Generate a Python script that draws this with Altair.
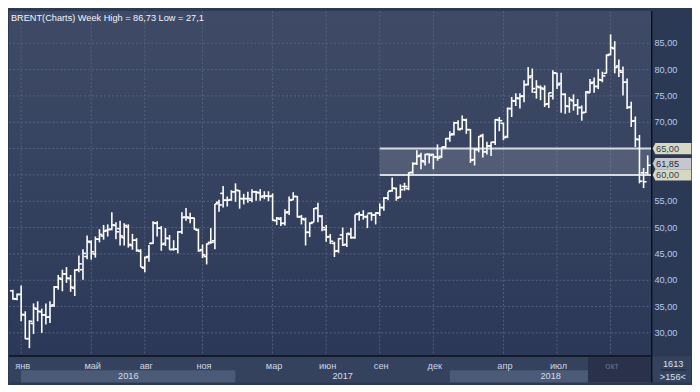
import altair as alt
import pandas as pd

# ---------------- data (weekly BRENT bars, index 1 = mid-Dec 2015) ----------------
first_bar = 1
opens = [38.0, 36.4,
         37.3, 33.4, 28.9, 31.8, 34.5, 34.0, 33.4, 33.0, 35.3, 38.7, 40.2, 41.2, 40.3, 38.5, 42.0, 42.0, 44.5,
         47.2, 45.0, 47.8, 48.4, 49.5, 49.7, 50.4, 49.8, 48.1, 50.1, 46.6, 47.6, 45.5, 42.3, 44.5, 47.0, 50.8,
         49.9, 47.0, 47.9, 45.9, 45.9, 49.2, 52.0, 51.8, 51.8, 49.5, 45.8, 44.5, 47.2, 47.5, 54.8, 56.5, 55.2, 55.3,
         56.8, 57.0, 55.5, 55.5, 55.2, 56.8, 56.6, 56.0, 56.0, 56.0, 51.3, 51.6, 50.8, 53.0, 55.3, 55.9, 52.1,
         51.5, 49.1, 51.0, 53.7, 52.1, 49.6, 48.3, 47.0, 45.6, 48.6, 46.8, 48.7, 48.1, 52.6, 52.4, 52.0, 52.7, 52.4,
         52.7, 53.8, 55.6, 57.0, 57.4, 55.8, 57.8, 57.4, 60.5, 62.2, 63.7, 62.5, 63.9, 63.9, 63.4, 63.5, 65.3,
         66.9, 67.8, 69.9, 68.8, 70.4, 68.6, 62.9, 64.8, 67.5, 64.4, 65.5, 66.2, 70.4, 69.8, 67.3, 72.6, 74.0,
         74.5, 75.0, 77.2, 78.8, 75.7, 76.6, 76.3, 73.5, 75.0, 79.3, 77.4, 75.3, 73.0, 74.1, 73.3, 72.8, 71.9,
         75.6, 77.6, 76.8, 78.0, 79.3, 82.9, 84.0, 80.7, 79.5, 77.6, 72.9, 70.3, 66.7, 60.4, 60.4]
highs = [38.2, 37.5,
         39.0, 34.1, 32.4, 35.6, 36.0, 34.6, 35.6, 36.0, 38.9, 41.0, 42.0, 42.5, 41.0, 42.1, 44.7, 45.9, 48.5,
         47.6, 48.3, 49.7, 50.5, 50.6, 52.9, 51.0, 51.3, 50.8, 50.6, 48.8, 48.0, 45.9, 44.5, 46.7, 51.2, 51.2,
         50.3, 49.9, 48.6, 47.6, 49.3, 52.9, 53.7, 52.8, 51.9, 49.8, 46.8, 47.0, 49.9, 54.5, 55.3, 57.9, 55.9, 57.1,
         58.4, 57.1, 56.4, 56.8, 57.3, 57.0, 57.3, 56.9, 56.9, 56.5, 52.0, 52.0, 53.5, 55.9, 56.7, 56.0, 52.4,
         51.9, 51.0, 53.7, 54.7, 52.4, 50.5, 48.8, 47.3, 48.0, 50.0, 48.9, 49.9, 52.5, 53.0, 53.3, 52.5, 52.9, 52.9,
         54.6, 55.8, 56.8, 59.5, 57.6, 58.2, 58.5, 60.5, 62.4, 64.7, 64.2, 64.0, 64.1, 64.0, 65.8, 65.3, 67.0,
         68.3, 70.1, 70.4, 71.3, 70.7, 68.7, 65.1, 67.4, 67.8, 66.3, 66.3, 70.6, 71.0, 69.9, 72.8, 74.8, 75.5,
         75.5, 78.0, 80.5, 80.2, 78.0, 77.0, 77.0, 75.6, 79.9, 79.4, 79.4, 75.5, 74.8, 75.3, 74.4, 73.2, 75.9,
         78.2, 78.5, 80.1, 79.6, 82.9, 86.7, 85.4, 81.9, 80.6, 78.3, 73.9, 71.1, 67.6, 61.3, 63.7]
lows = [36.3, 36.2,
        32.2, 28.8, 27.1, 29.8, 32.2, 30.0, 31.6, 31.9, 34.9, 38.2, 37.9, 39.5, 37.8, 37.0, 41.5, 40.1, 44.0,
        43.9, 44.3, 47.2, 47.7, 48.3, 49.5, 47.8, 46.6, 46.6, 46.2, 45.8, 45.4, 42.5, 41.5, 43.5, 46.9, 48.3,
        45.6, 46.5, 45.8, 45.6, 45.1, 48.8, 51.3, 50.8, 49.6, 45.4, 44.2, 43.0, 46.9, 45.9, 53.0, 53.8, 54.0, 55.1,
        54.9, 53.6, 54.4, 54.7, 54.8, 55.1, 55.1, 55.4, 55.0, 51.3, 50.5, 50.3, 50.4, 52.4, 55.2, 51.9, 50.6,
        46.6, 48.2, 51.0, 51.0, 49.3, 47.3, 46.9, 44.4, 45.2, 46.5, 46.3, 47.9, 47.9, 51.3, 51.5, 49.9, 51.3, 50.6,
        52.2, 53.2, 55.2, 56.8, 55.1, 55.6, 57.0, 57.1, 60.2, 61.9, 61.1, 61.8, 62.2, 61.1, 62.7, 63.2, 65.0,
        66.3, 67.5, 68.5, 68.6, 67.8, 62.3, 61.8, 64.3, 63.3, 63.9, 63.6, 65.7, 68.3, 66.6, 67.0, 71.0, 73.1,
        72.6, 73.8, 77.0, 75.6, 74.5, 74.2, 72.9, 72.7, 74.3, 76.3, 71.8, 71.6, 71.8, 72.2, 71.4, 70.3, 71.8,
        75.6, 75.6, 76.3, 77.6, 79.3, 82.7, 79.3, 78.6, 75.1, 72.5, 69.1, 65.3, 58.4, 57.5, 60.1]
closes = [36.5, 37.3,
          33.5, 28.9, 32.2, 34.7, 34.1, 33.4, 33.0, 35.1, 38.7, 40.4, 41.2, 40.4, 38.7, 41.9, 43.1, 45.1, 47.4,
          45.4, 47.8, 48.7, 49.3, 49.6, 50.5, 49.2, 48.4, 50.4, 46.8, 47.6, 45.7, 42.5, 44.3, 47.0, 50.9, 49.9,
          46.8, 48.0, 45.8, 45.9, 49.2, 51.9, 52.0, 51.8, 49.7, 45.6, 44.8, 46.9, 47.2, 54.5, 54.3, 55.2, 55.2, 56.8,
          57.1, 55.5, 55.5, 55.5, 56.8, 56.7, 55.8, 56.0, 55.9, 51.4, 51.8, 50.8, 52.8, 55.2, 55.9, 52.0, 51.7,
          49.1, 50.8, 53.6, 52.2, 50.0, 48.2, 47.4, 45.5, 47.9, 46.7, 48.9, 48.1, 52.5, 52.4, 52.1, 52.7, 52.4, 52.8,
          53.8, 55.6, 56.9, 57.5, 55.6, 57.2, 57.8, 60.4, 62.1, 63.5, 62.7, 63.9, 63.7, 63.4, 63.2, 65.3, 66.9,
          67.6, 69.9, 68.6, 70.5, 68.6, 62.8, 64.8, 67.3, 64.4, 65.5, 66.2, 70.5, 70.3, 67.1, 72.6, 74.1, 74.6,
          74.9, 77.1, 78.5, 76.4, 76.8, 76.5, 73.4, 75.6, 79.4, 77.1, 75.3, 73.1, 74.3, 73.2, 72.8, 71.8, 75.8,
          77.4, 76.8, 78.1, 78.8, 82.7, 84.2, 80.4, 79.8, 77.6, 72.8, 70.2, 66.8, 58.8, 58.7, 61.85]

month_bars = [3, 20, 33, 47, 64, 77, 90, 103, 120, 133, 146]
month_names = ["янв", "май", "авг", "ноя", "мар", "июн", "сен", "дек", "апр", "июл", "окт"]
year_names = ["2016", "2017", "2018"]
year_start = [3, 55, 107]
year_end = [55, 107, 155.9]
year_shade = ["light", "dark", "light"]
grid_levels = [30, 35, 40, 45, 50, 55, 60, 65, 70, 75, 80, 85]
band_low, band_high, band_start = 60, 65, 90
box_values = [65, 60]
box_texts = ["65,00", "60,00"]
last_price = [61.85]
last_text = ["61,85"]
title_text = "BRENT(Charts) Week High = 86,73 Low = 27,1"
bar_total = "1613"
bar_visible = ">156<"
overlay_start = 140.5

# ---------------- frames ----------------
n = len(opens)
ohlc = pd.DataFrame({"i": list(range(first_bar, first_bar + n)), "open": opens,
                     "high": highs, "low": lows, "close": closes})
months = pd.DataFrame({"idx": month_bars, "name": month_names})
years = pd.DataFrame({"name": year_names, "start": year_start, "end": year_end, "shade": year_shade})
levels = pd.DataFrame({"level": grid_levels,
                       "label": [f"{v},00" for v in grid_levels]})
axis_levels = levels[~levels["level"].isin(box_values)]
band = pd.DataFrame({"lo": [band_low], "hi": [band_high], "start": [band_start]})
band_lines = pd.DataFrame({"v": [band_low, band_high], "start": [band_start, band_start]})
boxes = pd.DataFrame({"v": box_values, "t": box_texts})
price = pd.DataFrame({"v": last_price, "t": last_text})
one = pd.DataFrame({"a": [0]})
overlay = pd.DataFrame({"s": [overlay_start]})

W, H = 649, 348
FONT = "Liberation Sans"
FS = 9.3
xs = alt.Scale(domain=[0.05, 155.9], nice=False, zero=False)
ys = alt.Scale(domain=[25.73, 91.15], nice=False, zero=False)


def X(f):
    return alt.X(f, type="quantitative", scale=xs, axis=None)


def Y(f):
    return alt.Y(f, type="quantitative", scale=ys, axis=None)


grad = {"gradient": "linear", "x1": 0, "x2": 0, "y1": 0, "y2": 1,
        "stops": [{"offset": 0, "color": "#3f4b66"}, {"offset": 1, "color": "#2b3857"}]}

bg = alt.Chart(one).mark_rect(color=grad).encode(
    x=alt.value(0), x2=alt.value(W), y=alt.value(0), y2=alt.value(H))

strip = alt.Chart(one).mark_rect(color="#34425e").encode(
    x=alt.value(0), x2=alt.value(689), y=alt.value(349), y2=alt.value(375.3))

vgrid = alt.Chart(months).mark_rule(color="#56637e", strokeWidth=1, strokeDash=[2, 2]).encode(
    x=X("idx"), y=alt.value(0), y2=alt.value(H))
hgrid = alt.Chart(levels).mark_rule(color="#56637e", strokeWidth=1, strokeDash=[2, 2]).encode(
    y=Y("level"), x=alt.value(0), x2=alt.value(W))

band_rect = alt.Chart(band).mark_rect(color="#ffffff", opacity=0.14).encode(
    x=X("start"), x2=alt.value(W), y=Y("lo"), y2="hi:Q")
band_rule = alt.Chart(band_lines).mark_rule(color="#d6dae3", strokeWidth=2).encode(
    x=X("start"), x2=alt.value(W), y=Y("v"))

base = alt.Chart(ohlc)
hl = base.mark_rule(color="#ffffff", strokeWidth=1.6).encode(
    x=X("i"), y=Y("low"), y2="high:Q")
op = base.transform_calculate(xl="datum.i - 0.72").mark_rule(color="#ffffff", strokeWidth=1.6).encode(
    x=X("xl"), x2="i:Q", y=Y("open"))
cl = base.transform_calculate(xr="datum.i + 0.72").mark_rule(color="#ffffff", strokeWidth=1.6).encode(
    x=X("i"), x2="xr:Q", y=Y("close"))

year_rects = alt.Chart(years).mark_rect().encode(
    x=X("start"), x2="end:Q", y=alt.value(363), y2=alt.value(375.3),
    color=alt.Color("shade:N", scale=alt.Scale(domain=["light", "dark"], range=["#4b5a77", "#34425e"]),
                    legend=None))
dark_overlay = alt.Chart(overlay).mark_rect(color="#29324a").encode(
    x=X("s"), x2=alt.value(W), y=alt.value(350), y2=alt.value(375.3))

month_text = alt.Chart(months).mark_text(font=FONT, fontSize=FS, align="center", baseline="alphabetic",
                                          dx=1.5).encode(
    x=X("idx"), y=alt.value(361.3), text="name:N",
    color=alt.condition("datum.name == 'окт'", alt.value("#65748e"), alt.value("#cdd6e6")))
year_text = alt.Chart(years).transform_calculate(mid="(datum.start + datum.end) / 2").mark_text(
    font=FONT, fontSize=FS, align="center", baseline="alphabetic", color="#d4dcea").encode(
    x=X("mid"), y=alt.value(372), text="name:N")

black_h = alt.Chart(one).mark_rule(color="#0c1019", strokeWidth=1.4).encode(
    x=alt.value(0), x2=alt.value(W), y=alt.value(348.7))
black_v = alt.Chart(one).mark_rule(color="#0c1019", strokeWidth=1.4).encode(
    x=alt.value(649.3), y=alt.value(0), y2=alt.value(375.3))

axis_labels = alt.Chart(axis_levels).mark_text(font=FONT, fontSize=FS, align="left", baseline="middle",
                                                color="#b3ccec").encode(
    x=alt.value(652), y=Y("level"), text="label:N")

box_shape = "M-1,0L-0.86,-0.29L1,-0.29L1,0.29L-0.86,0.29Z"
box_marks = alt.Chart(boxes).mark_point(shape=box_shape, filled=True, size=39 * 39, opacity=1,
                                        color="#d8d8c1", strokeWidth=0).encode(
    x=alt.value(669.8), y=Y("v"))
box_text = alt.Chart(boxes).mark_text(font=FONT, fontSize=FS, align="left", baseline="middle",
                                      color="#2a4262").encode(
    x=alt.value(653.7), y=Y("v"), text="t:N")
price_mark = alt.Chart(price).mark_point(shape=box_shape, filled=True, size=39 * 39, opacity=1,
                                         color="#c5c7cd", strokeWidth=0, yOffset=-1.6).encode(
    x=alt.value(669.8), y=Y("v"))
price_text = alt.Chart(price).mark_text(font=FONT, fontSize=FS, align="left", baseline="middle",
                                        color="#1f2a3c", yOffset=-1.6).encode(
    x=alt.value(653.7), y=Y("v"), text="t:N")

title = alt.Chart(one).mark_text(font=FONT, fontSize=FS, align="left", baseline="alphabetic",
                                 color="#f2f5fa", text=title_text).encode(
    x=alt.value(2), y=alt.value(10.3))

count_top = alt.Chart(one).mark_text(font=FONT, fontSize=FS, align="center", baseline="alphabetic",
                                     color="#d8e0f0", text=bar_total).encode(
    x=alt.value(671), y=alt.value(359.3))
count_bot = alt.Chart(one).mark_text(font=FONT, fontSize=FS, align="center", baseline="alphabetic",
                                     color="#d8e0f0", text=bar_visible).encode(
    x=alt.value(670.7), y=alt.value(373))
count_sep = alt.Chart(one).mark_rule(color="#1d2538", strokeWidth=1).encode(
    x=alt.value(658.7), x2=alt.value(683.7), y=alt.value(362.7))

chart = alt.layer(
    bg, strip, vgrid, hgrid, band_rect, band_rule, hl, op, cl,
    year_rects, dark_overlay, month_text, year_text, black_h, black_v,
    axis_labels, box_marks, box_text, price_mark, price_text, title,
    count_top, count_bot, count_sep
).properties(width=W, height=H, padding=0).configure(
    background="#2c3955"
).configure_view(stroke=None)

chart.save("out.html", embed_options={"renderer": "svg", "actions": False})
